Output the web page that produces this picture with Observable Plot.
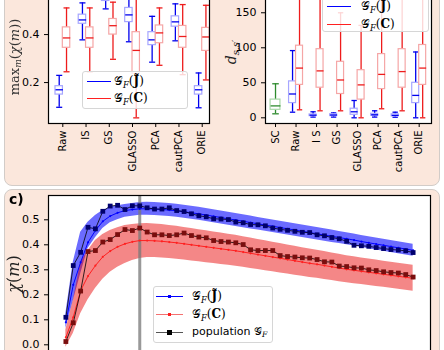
<!DOCTYPE html>
<html><head><meta charset="utf-8">
<script src="https://cdn.jsdelivr.net/npm/d3@7"></script>
<script src="https://cdn.jsdelivr.net/npm/@observablehq/plot@0.6"></script>
<style>
html,body{margin:0;padding:0;width:444px;height:350px;overflow:hidden;background:#fff;font-family:"DejaVu Sans",sans-serif;}
*{box-sizing:border-box;}
.panel{position:absolute;background:#fbe7dc;border:1px solid #d2ccc8;border-radius:8px;}
.abs{position:absolute;}
.leg{position:absolute;background:rgba(255,255,255,0.82);border:1px solid #d6d6d6;border-radius:3px;}
.math{font-family:"DejaVu Serif",serif;white-space:nowrap;}
.ln{position:absolute;height:0;}
.lt{position:absolute;font-size:12px;line-height:14px;white-space:nowrap;}
.ylab{position:absolute;transform:translate(-50%,-50%) rotate(-90deg);white-space:nowrap;}
sub{font-size:70%;vertical-align:-0.3em;}
</style></head><body>
<div class="panel" style="left:4px;top:-20px;width:436px;height:206px"></div>
<div class="panel" style="left:4px;top:189px;width:436px;height:200px"></div>
<div id="pa" class="abs" style="left:0;top:-30px"></div>
<div id="pb" class="abs" style="left:222px;top:-30px"></div>
<div id="pc" class="abs" style="left:0;top:189px"></div>

<div class="ylab math" style="left:15px;top:57px;font-size:13px;color:#333">max<sub><i>m</i></sub>(<i>χ</i>(<i>m</i>))</div>
<div class="ylab math" style="left:232px;top:52px;font-size:14px;color:#222"><i>d</i><sub><i>s</i>,<i>s</i>′</sub></div>
<div class="ylab math" style="left:13px;top:274px;font-size:16px;color:#222"><i>χ</i>(<i>m</i>)</div>
<div class="abs" style="left:9px;top:191px;font-size:14px;font-weight:bold;">c)</div>

<div class="leg" style="left:82px;top:71px;width:106px;height:38px">
  <div class="ln" style="left:4px;top:9px;width:24px;border-top:1.5px solid #0000ff"></div>
  <div class="lt math" style="left:31px;top:2px">𝒢<sub><i>F</i></sub>(<b>J̃</b>)</div>
  <div class="ln" style="left:4px;top:26px;width:24px;border-top:1.5px solid #ff2020"></div>
  <div class="lt math" style="left:31px;top:19px">𝒢<sub><i>F</i></sub>(<b>C</b>)</div>
</div>
<div class="leg" style="left:322px;top:-12px;width:107px;height:44px">
  <div class="ln" style="left:4px;top:17px;width:24px;border-top:1.5px solid #0000ff"></div>
  <div class="lt math" style="left:38px;top:10px">𝒢<sub><i>F</i></sub>(<b>J̃</b>)</div>
  <div class="ln" style="left:4px;top:35px;width:24px;border-top:1.5px solid #ff2020"></div>
  <div class="lt math" style="left:38px;top:28px">𝒢<sub><i>F</i></sub>(<b>C</b>)</div>
</div>
<div class="leg" style="left:153px;top:286px;width:120px;height:57px">
  <div class="ln" style="left:2px;top:9px;width:27px;border-top:1.2px solid #0000ff"></div>
  <div class="abs" style="left:14px;top:8px;width:3px;height:3px;background:#0000ff"></div>
  <div class="lt math" style="left:38px;top:2px">𝒢<sub><i>F</i></sub>(<b>J̃</b>)</div>
  <div class="ln" style="left:2px;top:27px;width:27px;border-top:1.5px solid #f47070"></div>
  <div class="abs" style="left:14px;top:26px;width:3px;height:3px;background:#ff2020"></div>
  <div class="lt math" style="left:38px;top:20px">𝒢<sub><i>F</i></sub>(<b>C</b>)</div>
  <div class="ln" style="left:2px;top:45px;width:27px;border-top:1.5px solid #555"></div>
  <div class="abs" style="left:13px;top:43px;width:5px;height:5px;background:#000"></div>
  <div class="lt" style="left:38px;top:38px;font-size:11px">population <span class="math">𝒢<sub><i>F</i></sub></span></div>
</div>

<script>
// ---------- panel a: max_m chi(m) ----------
const catsA = ["Raw","IS","GS","GLASSO","PCA","cautPCA","ORIE"];
const aJmin = [0.097,0.378,0.507,0.370,0.285,0.374,0.095];
const aJq1  = [0.150,0.445,0.540,0.452,0.356,0.433,0.150];
const aJmed = [0.170,0.461,0.565,0.482,0.378,0.453,0.170];
const aJq3  = [0.185,0.483,0.585,0.511,0.410,0.476,0.185];
const aJmax = [0.230,0.532,0.620,0.580,0.476,0.528,0.240];
const aCmin = [0.245,0.245,0.297,0.053,0.272,0.233,0.211];
const aCq1  = [0.345,0.345,0.400,0.236,0.364,0.345,0.332];
const aCmed = [0.386,0.386,0.437,0.334,0.407,0.392,0.390];
const aCq3  = [0.430,0.430,0.465,0.410,0.438,0.436,0.428];
const aCmax = [0.511,0.511,0.535,0.600,0.511,0.525,0.522];

// ---------- panel b: d_{s,s'} ----------
const catsB = ["SC","Raw","I S","GS","GLASSO","PCA","cautPCA","ORIE"];
const bSC = {min:5.7,q1:11.4,med:17,q3:26,max:48.6};
const bJmin = [8,1,1,0,1,0.8,0];
const bJq1  = [21,2.4,2.5,4.3,2.9,2,21];
const bJmed = [34,3.8,4,8.6,4.3,3.5,32];
const bJq3  = [52,4.8,5,13,5.7,5,50];
const bJmax = [96,8.6,7,24.7,10,8,94];
const bCmin = [11.4,10,10,0,12.9,10,0];
const bCq1  = [47,43,34,26,41,43,47];
const bCmed = [71,67,54,47,62,66,71];
const bCq3  = [103,98,80,68,91,98,104];
const bCmax = [200,195,150,132,180,190,200];

// ---------- panel c: chi(m) ----------
const popJ = [0.110,0.317,0.370,0.470,0.464,0.534,0.555,0.558,0.541,0.556,
  0.556,0.548,0.543,0.543,0.548,0.537,0.533,0.524,0.516,0.512,
  0.504,0.503,0.501,0.491,0.488,0.481,0.480,0.476,0.467,0.462,
  0.458,0.454,0.450,0.449,0.440,0.436,0.429,0.424,0.414,0.398,
  0.396,0.394,0.389,0.385,0.381,0.379,0.376,0.369];
const popC = [0.013,0.088,0.215,0.373,0.377,0.411,0.421,0.441,0.461,0.457,
  0.467,0.451,0.440,0.440,0.437,0.440,0.447,0.437,0.431,0.428,
  0.417,0.413,0.411,0.408,0.401,0.380,0.377,0.377,0.377,0.357,
  0.353,0.351,0.348,0.347,0.341,0.332,0.331,0.315,0.313,0.308,
  0.307,0.300,0.297,0.292,0.289,0.287,0.281,0.271];
const meanJ = [0.090,0.240,0.330,0.410,0.457,0.494,0.515,0.528,0.537,0.541,
  0.544,0.544,0.543,0.541,0.539,0.536,0.532,0.528,0.524,0.519,
  0.514,0.509,0.504,0.499,0.494,0.489,0.484,0.479,0.474,0.469,
  0.464,0.459,0.454,0.449,0.444,0.439,0.434,0.429,0.424,0.419,
  0.413,0.408,0.403,0.398,0.393,0.388,0.383,0.378];
const loJ = [0.065,0.175,0.283,0.385,0.428,0.465,0.488,0.500,0.510,0.514,
  0.518,0.518,0.517,0.515,0.513,0.510,0.506,0.502,0.498,0.493,
  0.488,0.483,0.478,0.473,0.468,0.463,0.459,0.454,0.449,0.444,
  0.439,0.434,0.429,0.424,0.419,0.414,0.409,0.405,0.400,0.395,
  0.389,0.384,0.379,0.374,0.369,0.364,0.359,0.354];
const hiJ = [0.125,0.330,0.450,0.490,0.517,0.537,0.550,0.556,0.561,0.565,
  0.569,0.570,0.569,0.567,0.565,0.562,0.558,0.554,0.550,0.545,
  0.540,0.535,0.530,0.525,0.520,0.515,0.509,0.504,0.499,0.494,
  0.489,0.484,0.479,0.474,0.469,0.464,0.459,0.453,0.448,0.443,
  0.437,0.432,0.427,0.422,0.417,0.412,0.407,0.402];
const meanC = [0.030,0.110,0.217,0.275,0.317,0.352,0.375,0.392,0.404,0.412,
  0.417,0.417,0.416,0.414,0.411,0.408,0.404,0.400,0.396,0.392,
  0.388,0.384,0.380,0.376,0.371,0.366,0.361,0.356,0.351,0.346,
  0.341,0.336,0.331,0.326,0.322,0.317,0.312,0.307,0.302,0.298,
  0.294,0.290,0.286,0.282,0.278,0.274,0.270,0.266];
const loC = [-0.010,0.045,0.124,0.180,0.225,0.262,0.290,0.310,0.325,0.337,
  0.345,0.349,0.349,0.347,0.345,0.342,0.339,0.335,0.332,0.328,
  0.325,0.321,0.318,0.314,0.310,0.305,0.301,0.296,0.292,0.287,
  0.283,0.278,0.274,0.269,0.266,0.261,0.257,0.252,0.248,0.244,
  0.241,0.237,0.233,0.230,0.226,0.222,0.218,0.214];
const hiC = [0.060,0.177,0.330,0.377,0.417,0.441,0.457,0.468,0.477,0.481,
  0.484,0.485,0.483,0.481,0.477,0.474,0.469,0.465,0.460,0.456,
  0.451,0.447,0.442,0.438,0.432,0.427,0.421,0.416,0.410,0.405,
  0.399,0.394,0.388,0.383,0.378,0.373,0.367,0.362,0.356,0.352,
  0.347,0.343,0.339,0.334,0.330,0.326,0.322,0.318];
const peakM = 11;

const FONT = {fontFamily:"DejaVu Sans, sans-serif", fontSize:"10px", color:"#000", background:"transparent", overflow:"visible"};

function boxMarks(rows, off, bw, cw, dark, light) {
  const X = d => d.i + off;
  return [
    Plot.ruleX(rows, {x: X, y1: "min", y2: "q1", stroke: dark, strokeWidth: 1.3}),
    Plot.ruleX(rows, {x: X, y1: "q3", y2: "max", stroke: dark, strokeWidth: 1.3}),
    Plot.link(rows, {x1: d => X(d) - cw, x2: d => X(d) + cw, y1: "min", y2: "min", stroke: dark, strokeWidth: 1.3}),
    Plot.link(rows, {x1: d => X(d) - cw, x2: d => X(d) + cw, y1: "max", y2: "max", stroke: dark, strokeWidth: 1.3}),
    Plot.rect(rows, {x1: d => X(d) - bw, x2: d => X(d) + bw, y1: "q1", y2: "q3", fill: "#fff", fillOpacity: 0.85, stroke: light, strokeWidth: 1.2}),
    Plot.link(rows, {x1: d => X(d) - bw, x2: d => X(d) + bw, y1: "med", y2: "med", stroke: dark, strokeWidth: 1.3})
  ];
}
const mk = (mn, q1, md, q3, mx, shift) => mn.map((v, k) => ({i: k + shift, min: v, q1: q1[k], med: md[k], q3: q3[k], max: mx[k]}));

// panel a
const rowsAJ = mk(aJmin, aJq1, aJmed, aJq3, aJmax, 0);
const rowsAC = mk(aCmin, aCq1, aCmed, aCq3, aCmax, 0);
const pa = Plot.plot({
  width: 222, height: 213, marginLeft: 48, marginRight: 13, marginTop: 10, marginBottom: 60,
  style: FONT,
  x: {type: "linear", domain: [-0.616, 6.314]},
  y: {domain: [0.0295, 0.6253]},
  marks: [
    Plot.frame({fill: "#fff"}),
    ...boxMarks(rowsAJ, -0.155, 0.16, 0.13, "#0000ee", "#a6a6ff"),
    ...boxMarks(rowsAC, 0.16, 0.16, 0.13, "#ee1c1c", "#f5a6a6"),
    Plot.frame({stroke: "#000", strokeWidth: 1.2}),
    Plot.axisX({ticks: d3.range(catsA.length), tickFormat: i => catsA[i], tickRotate: -90, tickSize: 4, tickPadding: 3, label: null, fontSize: 10}),
    Plot.axisY({ticks: [0.2, 0.4], tickFormat: d3.format(".1f"), tickSize: 4, label: null, fontSize: 11})
  ]
});
document.getElementById("pa").append(pa);

// panel b
const rowsSC = [{i: 0, ...bSC}];
const rowsBJ = mk(bJmin, bJq1, bJmed, bJq3, bJmax, 1);
const rowsBC = mk(bCmin, bCq1, bCmed, bCq3, bCmax, 1);
const pb = Plot.plot({
  width: 222, height: 213, marginLeft: 43, marginRight: 13, marginTop: 10, marginBottom: 60,
  style: FONT,
  x: {type: "linear", domain: [-0.488, 7.6]},
  y: {domain: [-8.14, 196.1]},
  marks: [
    Plot.frame({fill: "#fff"}),
    ...boxMarks(rowsSC, 0, 0.24, 0.16, "#2e8b2e", "#a8d8a8"),
    ...boxMarks(rowsBJ, -0.17, 0.17, 0.13, "#0000ee", "#a6a6ff"),
    ...boxMarks(rowsBC, 0.17, 0.17, 0.13, "#ee1c1c", "#f5a6a6"),
    Plot.frame({stroke: "#000", strokeWidth: 1.2}),
    Plot.axisX({ticks: d3.range(catsB.length), tickFormat: i => catsB[i], tickRotate: -90, tickSize: 4, tickPadding: 3, label: null, fontSize: 10}),
    Plot.axisY({ticks: [0, 50, 100, 150], tickSize: 4, label: null, fontSize: 11})
  ]
});
document.getElementById("pb").append(pb);

// panel c
const M = d3.range(1, popJ.length + 1);
const rowsC = M.map((m, k) => ({m, popJ: popJ[k], popC: popC[k], meanJ: meanJ[k], loJ: loJ[k], hiJ: hiJ[k], meanC: meanC[k], loC: loC[k], hiC: hiC[k]}));
const pc = Plot.plot({
  width: 444, height: 190, marginLeft: 48, marginRight: 14, marginTop: 6, marginBottom: 14,
  style: FONT,
  x: {domain: [-1.35, 50.35], axis: null},
  y: {domain: [-0.0828, 0.5972]},
  marks: [
    Plot.frame({fill: "#fff"}),
    Plot.areaY(rowsC, {x: "m", y1: "loJ", y2: "hiJ", fill: "#0000ff", fillOpacity: 0.58}),
    Plot.areaY(rowsC, {x: "m", y1: "loC", y2: "hiC", fill: "#e80000", fillOpacity: 0.47}),
    Plot.ruleX([peakM], {stroke: "#777", strokeOpacity: 0.75, strokeWidth: 3}),
    Plot.lineY(rowsC, {x: "m", y: "meanJ", stroke: "#0000ff", strokeWidth: 1}),
    Plot.dot(rowsC, {x: "m", y: "meanJ", r: 1.1, fill: "#0000ff"}),
    Plot.lineY(rowsC, {x: "m", y: "meanC", stroke: "#ff2020", strokeWidth: 1}),
    Plot.dot(rowsC, {x: "m", y: "meanC", r: 1.1, fill: "#ff2020"}),
    Plot.lineY(rowsC, {x: "m", y: "popJ", stroke: "#000", strokeWidth: 0.8}),
    Plot.dot(rowsC, {x: "m", y: "popJ", symbol: "square", r: 2.7, fill: "#00006e"}),
    Plot.lineY(rowsC, {x: "m", y: "popC", stroke: "#000", strokeWidth: 0.8}),
    Plot.dot(rowsC, {x: "m", y: "popC", symbol: "square", r: 2.7, fill: "#7a0e0e"}),
    Plot.frame({stroke: "#000", strokeWidth: 1.2}),
    Plot.axisY({ticks: [0, 0.1, 0.2, 0.3, 0.4, 0.5], tickFormat: d3.format(".1f"), tickSize: 4, label: null, fontSize: 11})
  ]
});
document.getElementById("pc").append(pc);
</script>
</body></html>
